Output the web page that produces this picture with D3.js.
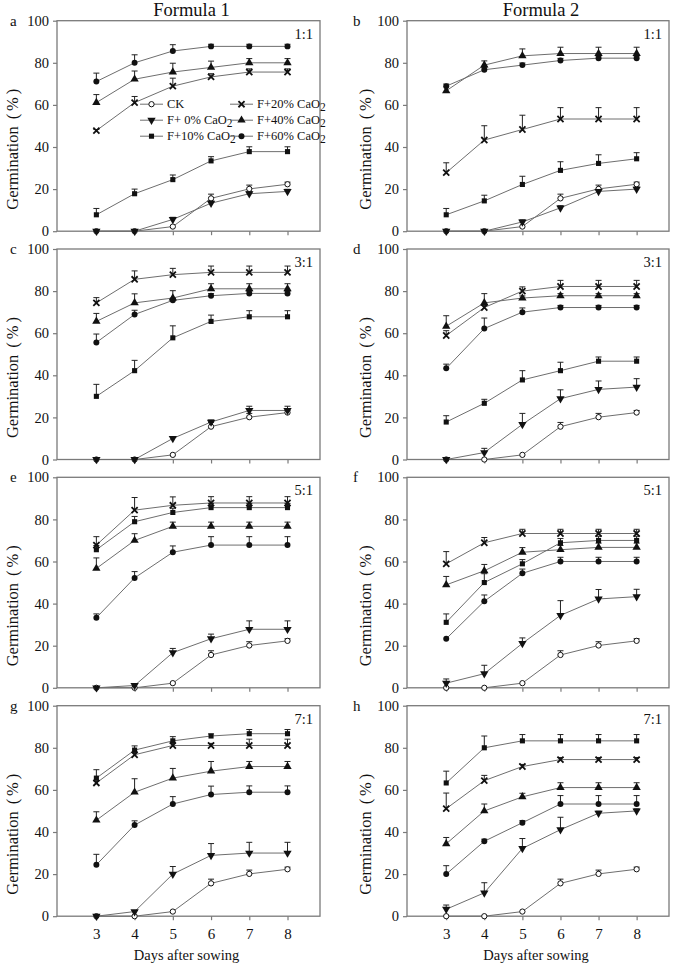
<!DOCTYPE html>
<html><head><meta charset="utf-8">
<script src="https://cdn.jsdelivr.net/npm/d3@7"></script>
<style>
body{margin:0;background:#fff}
text{font-family:"Times New Roman","Liberation Serif",serif;fill:#111}
</style>
</head><body>
<svg id="chart" width="675" height="966"></svg>
<script>
// ---------------- data ----------------
const days = [3, 4, 5, 6, 7, 8];
const seriesNames = ["CK", "F+ 0% CaO", "F+10% CaO", "F+20% CaO", "F+40% CaO", "F+60% CaO"];
const columnTitles = ["Formula 1", "Formula 2"];
const panelLetters = ["a", "b", "c", "d", "e", "f", "g", "h"];
const panelRatios = ["1:1", "1:1", "3:1", "3:1", "5:1", "5:1", "7:1", "7:1"];
const yTicks = [0, 20, 40, 60, 80, 100];

const ckMean = [0, 0, 2.2, 15.6, 20.1, 22.3];
const ckErr  = [0, 0, 0, 2, 1.8, 1];

// rows: F+0%, F+10%, F+20%, F+40%, F+60%
const meanA = [[0,0,5.6,13.3,17.8,18.9],[7.8,17.8,24.5,33.4,37.8,37.8],[47.8,61.1,68.9,73.3,75.6,75.6],[61.1,72.2,75.6,77.8,80,80],[71.1,80,85.6,87.8,87.8,87.8]];
const errA  = [[0,0,1,1,1,1],[3,2.2,2.2,2,2.3,2.3],[0.5,2.9,3.8,1.5,1.5,1.5],[3.8,3.9,4.2,3,2,2],[4,3.8,3,1,1,1]];
const meanB = [[0,0,4.4,11.1,18.9,20],[7.8,14.4,22.2,28.9,32.2,34.4],[27.8,43.3,48.3,53.3,53.3,53.3],[66.7,78.9,83.3,84.4,84.4,84.4],[68.9,76.7,78.9,81.1,82.2,82.2]];
const errB  = [[0,0,1,1,1,1],[3,2.7,3.9,4.1,4.1,2.9],[4.7,6.8,6.8,5.4,5.4,5.4],[0,2,3.3,3,3,3],[1,1,1,1,1,1]];
const meanC = [[0,0,10,17.8,23.3,23.3],[30,42.2,57.8,65.6,67.8,67.8],[74.4,85.6,87.8,88.9,88.9,88.9],[65.6,74.4,76.7,81.1,81.1,81.1],[55.6,68.9,75.6,77.8,78.9,78.9]];
const errC  = [[0,0,0,1,2,2],[5.7,4.9,5.7,3,2.9,2.9],[2.5,4,3,3,3,3],[3.8,4.3,3.5,2.4,2.4,2.4],[4,2,1,1,1,1]];
const meanD = [[0,3.3,16.7,28.9,33.3,34.4],[17.8,26.7,37.8,42.2,46.7,46.7],[58.9,72.2,80,82.2,82.2,82.2],[63.3,74.4,76.7,77.8,77.8,77.8],[43.3,62.2,70,72.2,72.2,72.2]];
const errD  = [[0,2,5.2,4.2,4,4],[3,1.9,4.4,4,2,2],[2.3,1,2,2.9,2.9,2.9],[5,4.4,1,1,1,1],[2,5,2,1,1,1]];
const meanE = [[0,1.1,16.7,23.3,27.8,27.8],[65.6,78.9,83.3,85.6,85.6,85.6],[67.8,84.4,86.7,87.8,87.8,87.8],[56.7,70,76.7,76.7,76.7,76.7],[33.3,52.2,64.4,67.8,67.8,67.8]];
const errE  = [[0,0,2,2.2,4,4],[2,2.5,2,2,2,2],[4,6,4,3,3,3],[5,3.2,2,2,2,2],[1.8,3,3,4,4,4]];
const meanF = [[2.2,6.7,21.1,34.4,42.2,43.3],[31.1,50,58.9,68.9,70,70],[58.9,68.9,73.3,73.3,73.3,73.3],[48.9,55.6,64.4,65.6,66.7,66.7],[23.3,41.1,54.4,60,60,60]];
const errF  = [[2,4,2.6,7,4.5,3.5],[4,4.2,2,2,2,2],[5.8,2.5,2,2,2,2],[4,3,2.2,2,2,2],[0,3,2,2,2,2]];
const meanG = [[0,2.2,20,28.9,30,30],[65.6,78.9,83.3,85.6,86.7,86.7],[63.3,76.7,81.1,81.1,81.1,81.1],[45.6,58.9,65.6,68.9,71.1,71.1],[24.4,43.3,53.3,57.8,58.9,58.9]];
const errG  = [[0,0.5,3.6,5.6,5.1,5.1],[4,2,2,1,2,2],[1,1,1,1,3,3],[4,6.4,4.6,4.6,2.4,2.4],[5,2,3.5,4,3,3]];
const meanH = [[3.3,11.1,32.2,41.1,48.9,50],[63.3,80,83.3,83.3,83.3,83.3],[51.1,64.4,71.1,74.4,74.4,74.4],[34.4,50,56.7,61.1,61.1,61.1],[20,35.6,44.4,53.3,53.3,53.3]];
const errH  = [[2,4.8,4.7,5.9,1,1],[5.6,5.6,3,3,3,3],[7.4,2.5,1,1,1,1],[3,3.3,1.7,2.3,2.3,2.3],[4,1,1,4,4,4]];

// ---------------- layout ----------------
const panelMeans = [meanA, meanB, meanC, meanD, meanE, meanF, meanG, meanH];
const panelErrs  = [errA, errB, errC, errD, errE, errF, errG, errH];
const colLeft = [57, 407];
const colWidth = [263, 262];
const rowTop = [20.7, 249, 477.3, 705.7];
const plotH = 210.5;
const letterX = [10, 353];
const yLabelX = [18, 371];
const axisColor = "#7a7a7a";
const lineColor = "#6e6e6e";

const svg = d3.select("#chart");

const symType = [d3.symbolCircle, d3.symbolTriangle, d3.symbolSquare, d3.symbolX, d3.symbolTriangle, d3.symbolCircle];
const symSize = [22, 30, 26, 26, 30, 28];
function drawMarker(g, si, x, y) {
  const p = d3.symbol().type(symType[si]).size(symSize[si])();
  const m = g.append("path").attr("d", p);
  let tr = `translate(${x},${y})`;
  if (si === 1) tr += " rotate(180)";
  m.attr("transform", tr);
  if (si === 0) m.attr("fill", "#fff").attr("stroke", "#111").attr("stroke-width", 1);
  else if (si === 3) m.attr("fill", "none").attr("stroke", "#111").attr("stroke-width", 1.8);
  else m.attr("fill", "#111");
}

panelMeans.forEach((means, pi) => {
  const col = pi % 2, row = Math.floor(pi / 2);
  const L = colLeft[col], T = rowTop[row], W = colWidth[col];
  const x = d3.scaleLinear().domain([1.97, 8.85]).range([0, W]);
  const y = d3.scaleLinear().domain([0, 100]).range([plotH, 0]);
  const g = svg.append("g").attr("transform", `translate(${L},${T})`);

  // axes
  const ya = g.append("g").call(d3.axisLeft(y).tickValues(yTicks).tickSize(4).tickPadding(4));
  ya.attr("font-family", null);
  ya.select(".domain").remove();
  ya.selectAll("line").attr("stroke", axisColor).attr("stroke-width", 1.2);
  ya.selectAll("text").attr("font-size", 14.5).attr("fill", "#111");
  const xa = g.append("g").attr("transform", `translate(0,${plotH})`)
    .call(d3.axisBottom(x).tickValues(days).tickSize(4).tickPadding(8).tickFormat(row === 3 ? d3.format("d") : () => ""));
  xa.attr("font-family", null);
  xa.select(".domain").remove();
  xa.selectAll("line").attr("stroke", axisColor).attr("stroke-width", 1.2);
  xa.selectAll("text").attr("font-size", 15).attr("fill", "#111");
  g.append("rect").attr("x", 0).attr("y", 0).attr("width", W).attr("height", plotH)
    .attr("fill", "none").attr("stroke", axisColor).attr("stroke-width", 1.3);

  const all = [ckMean].concat(means);
  const errs = [ckErr].concat(panelErrs[pi]);
  const line = d3.line().x((d, i) => x(days[i])).y(d => y(d));
  all.forEach(s => g.append("path").attr("d", line(s)).attr("fill", "none")
    .attr("stroke", lineColor).attr("stroke-width", 1));
  all.forEach((s, si) => s.forEach((v, i) => {
    const e = errs[si][i];
    if (e > 0.4) {
      const cx = x(days[i]), y0 = y(v), y1 = y(v + e);
      g.append("line").attr("x1", cx).attr("x2", cx).attr("y1", y0).attr("y2", y1)
        .attr("stroke", "#222").attr("stroke-width", 1);
      g.append("line").attr("x1", cx - 3).attr("x2", cx + 3).attr("y1", y1).attr("y2", y1)
        .attr("stroke", "#222").attr("stroke-width", 1);
    }
  }));
  all.forEach((s, si) => s.forEach((v, i) => drawMarker(g, si, x(days[i]), y(v))));

  // labels
  g.append("text").attr("x", W - 7).attr("y", 18).attr("text-anchor", "end")
    .attr("font-size", 14.5).text(panelRatios[pi]);
  svg.append("text").attr("x", letterX[col]).attr("y", T + 5).attr("font-size", 15).text(panelLetters[pi]);
  const yl = svg.append("text").attr("transform", `translate(${yLabelX[col]},${T + 127}) rotate(-90)`)
    .attr("text-anchor", "middle").attr("font-size", 16.5);
  yl.append("tspan").text("Germination");
  yl.append("tspan").attr("dx", 7).attr("letter-spacing", 3).text("(%)");
  if (row === 0) {
    svg.append("text").attr("x", L + W / 2 + 3).attr("y", 16).attr("text-anchor", "middle")
      .attr("font-size", 18.5).text(columnTitles[col]);
  }
  if (row === 3) {
    svg.append("text").attr("x", L + W / 2 - 2).attr("y", 960).attr("text-anchor", "middle")
      .attr("font-size", 14.5).text("Days after sowing");
  }

  // legend in panel a
  if (pi === 0) {
    const lg = [[0, 0], [1, 0], [2, 0], [3, 1], [4, 1], [5, 1]];
    const lrow = [0, 1, 2, 0, 1, 2];
    lg.forEach(([si, c], k) => {
      const lx = c === 0 ? 83 : 173, ly = 83.5 + lrow[k] * 16;
      g.append("line").attr("x1", lx).attr("x2", lx + 23).attr("y1", ly).attr("y2", ly)
        .attr("stroke", lineColor).attr("stroke-width", 1);
      drawMarker(g, si, lx + 11.5, ly);
      const t = g.append("text").attr("x", lx + 27).attr("y", ly + 4).attr("font-size", 12.5);
      t.append("tspan").text(seriesNames[si]);
      if (si > 0) t.append("tspan").attr("dy", 3).attr("font-size", 11.5).text("2");
    });
  }
});
</script>
</body></html>
